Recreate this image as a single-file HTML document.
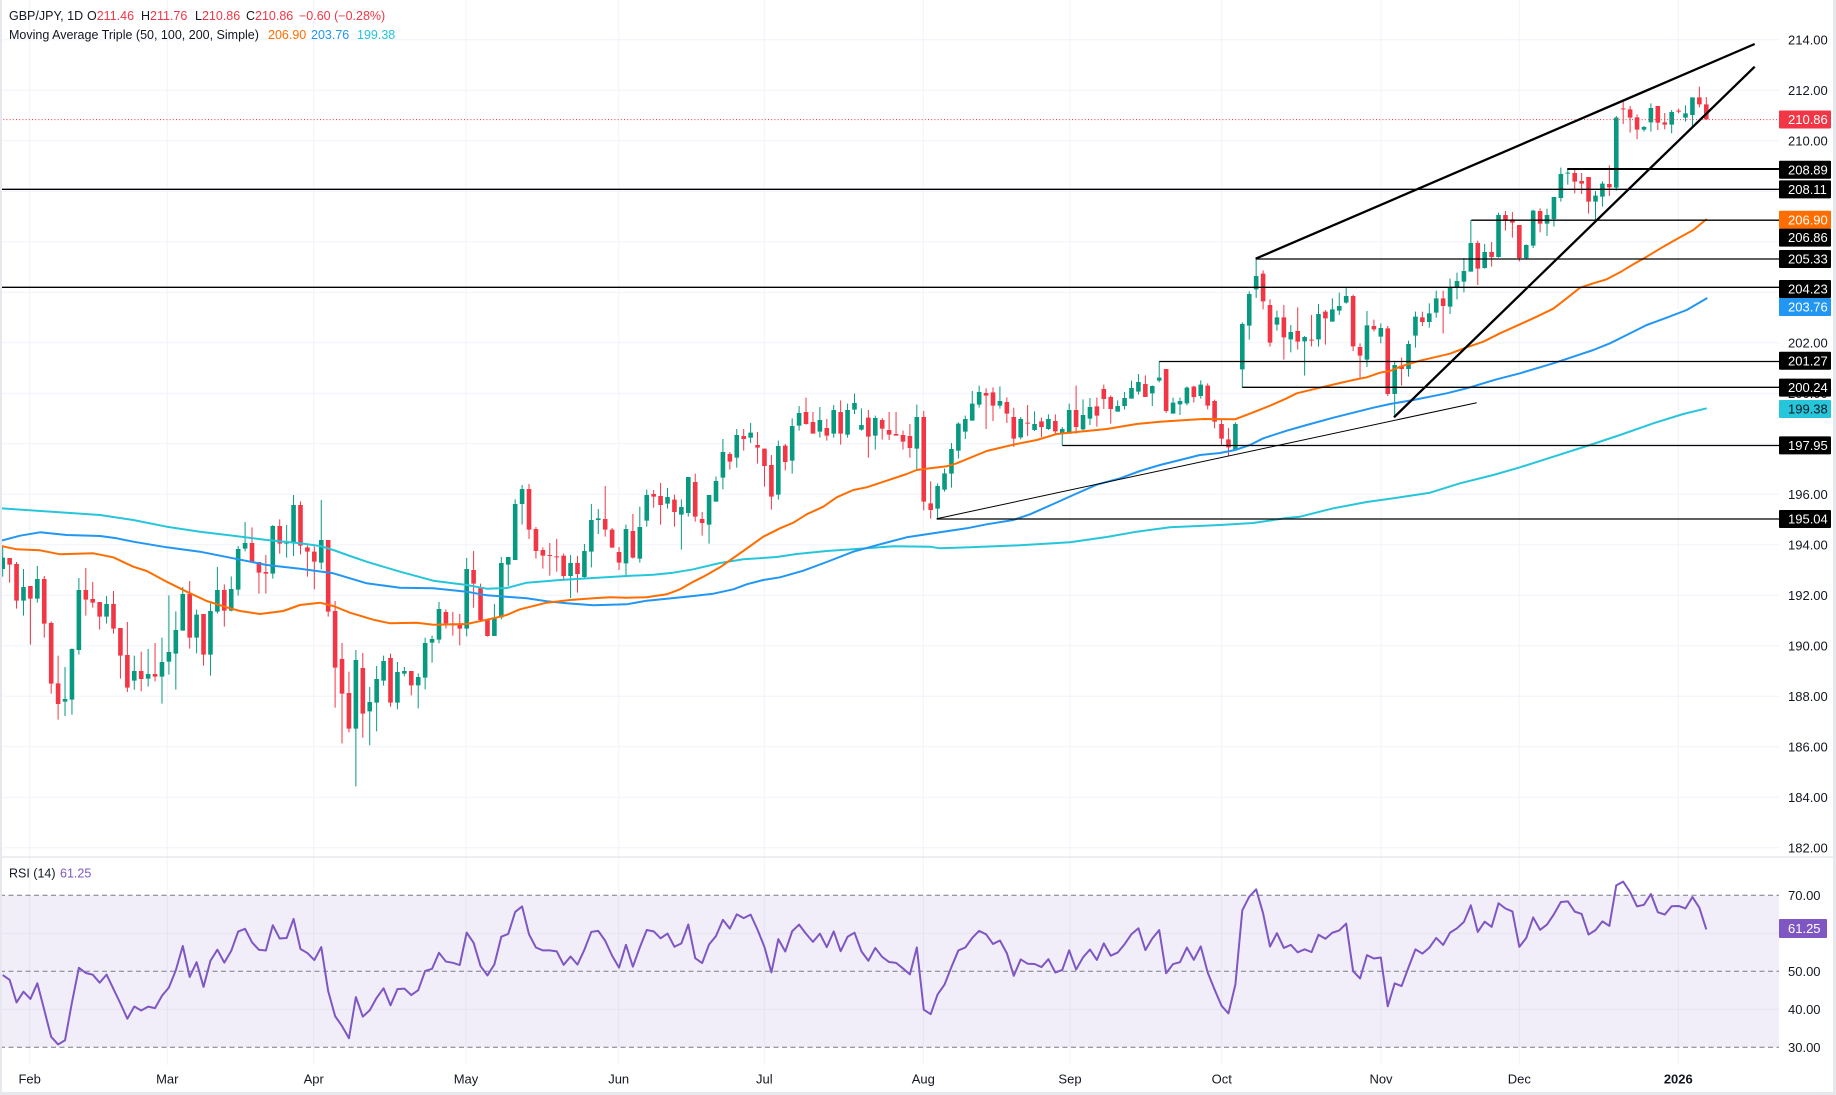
<!DOCTYPE html>
<html><head><meta charset="utf-8">
<style>
html,body{margin:0;padding:0;background:#fff;}
svg{display:block;font-family:"Liberation Sans",Arial,sans-serif;}
</style></head><body>
<svg id="c" width="1836" height="1095" viewBox="0 0 1836 1095" xmlns="http://www.w3.org/2000/svg">
<rect width="1836" height="1095" fill="#fff"/>
<g stroke="#f0f3fa" stroke-width="1">
<line x1="0" x2="1779" y1="39.8" y2="39.8"/><line x1="0" x2="1779" y1="90.3" y2="90.3"/><line x1="0" x2="1779" y1="140.8" y2="140.8"/><line x1="0" x2="1779" y1="191.3" y2="191.3"/><line x1="0" x2="1779" y1="241.8" y2="241.8"/><line x1="0" x2="1779" y1="292.3" y2="292.3"/><line x1="0" x2="1779" y1="342.8" y2="342.8"/><line x1="0" x2="1779" y1="393.3" y2="393.3"/><line x1="0" x2="1779" y1="443.8" y2="443.8"/><line x1="0" x2="1779" y1="494.3" y2="494.3"/><line x1="0" x2="1779" y1="544.8" y2="544.8"/><line x1="0" x2="1779" y1="595.3" y2="595.3"/><line x1="0" x2="1779" y1="645.8" y2="645.8"/><line x1="0" x2="1779" y1="696.3" y2="696.3"/><line x1="0" x2="1779" y1="746.8" y2="746.8"/><line x1="0" x2="1779" y1="797.3" y2="797.3"/><line x1="0" x2="1779" y1="847.8" y2="847.8"/>
<line y1="0" y2="1065" x1="29.7" x2="29.7"/><line y1="0" y2="1065" x1="167.3" x2="167.3"/><line y1="0" y2="1065" x1="313.7" x2="313.7"/><line y1="0" y2="1065" x1="466" x2="466"/><line y1="0" y2="1065" x1="618.7" x2="618.7"/><line y1="0" y2="1065" x1="764.3" x2="764.3"/><line y1="0" y2="1065" x1="923.3" x2="923.3"/><line y1="0" y2="1065" x1="1070" x2="1070"/><line y1="0" y2="1065" x1="1221.7" x2="1221.7"/><line y1="0" y2="1065" x1="1381" x2="1381"/><line y1="0" y2="1065" x1="1519.3" x2="1519.3"/><line y1="0" y2="1065" x1="1678.3" x2="1678.3"/>
</g>
<line x1="0" x2="1836" y1="857" y2="857" stroke="#e0e3eb" stroke-width="1.2"/>
<!-- RSI pane -->
<rect x="0" y="895.3" width="1779" height="152" fill="#7e57c2" fill-opacity="0.1"/>
<line x1="0" x2="1779" y1="933.3" y2="933.3" stroke="#e6e1f1" stroke-width="1"/>
<line x1="0" x2="1779" y1="1009.3" y2="1009.3" stroke="#e6e1f1" stroke-width="1"/>
<g stroke="#787b86" stroke-width="1" stroke-dasharray="5,3.5">
<line x1="0" x2="1779" y1="895.3" y2="895.3"/><line x1="0" x2="1779" y1="971.3" y2="971.3"/><line x1="0" x2="1779" y1="1047.3" y2="1047.3"/>
</g>
<g id="cand"></g>
<g id="ma" fill="none" stroke-width="2" stroke-linejoin="round"></g>
<g id="rsi" fill="none"></g>
<!-- last price dotted line -->
<line x1="0" x2="1779" y1="119.6" y2="119.6" stroke="#f23645" stroke-width="1" stroke-dasharray="1,2.2"/>
<!-- drawings -->
<g stroke="#000" fill="none">
<line x1="1567.3" x2="1779" y1="169" y2="169" stroke-width="2"/>
<line x1="0" x2="1779" y1="189.3" y2="189.3" stroke-width="1.3"/>
<line x1="1471.3" x2="1779" y1="220.2" y2="220.2" stroke-width="1.3"/>
<line x1="1255.7" x2="1779" y1="259" y2="259" stroke-width="1.3"/>
<line x1="0" x2="1779" y1="287.3" y2="287.3" stroke-width="1.3"/>
<line x1="1159.3" x2="1779" y1="361.5" y2="361.5" stroke-width="1.3"/>
<line x1="1242.3" x2="1779" y1="387.3" y2="387.3" stroke-width="1.3"/>
<line x1="1062.3" x2="1779" y1="445.5" y2="445.5" stroke-width="1.3"/>
<line x1="936.7" x2="1779" y1="519" y2="519" stroke-width="1.3"/>
<line x1="1255.7" y1="258.7" x2="1754.7" y2="44" stroke-width="2.3"/>
<line x1="1394" y1="417.3" x2="1754.7" y2="66.7" stroke-width="2.3"/>
<line x1="936.7" y1="518.7" x2="1476.7" y2="402.7" stroke-width="1"/>
</g>
<!-- header -->
<g font-size="12.5" fill="#131722">
<text x="9" y="20">GBP/JPY, 1D</text>
<text x="87" y="20">O<tspan fill="#f23645">211.46</tspan></text>
<text x="141" y="20">H<tspan fill="#f23645">211.76</tspan></text>
<text x="195" y="20">L<tspan fill="#f23645">210.86</tspan></text>
<text x="246" y="20">C<tspan fill="#f23645">210.86</tspan></text>
<text x="299" y="20" fill="#f23645">−0.60 (−0.28%)</text>
<text x="9" y="39">Moving Average Triple (50, 100, 200, Simple)</text>
<text x="268" y="39" fill="#ff6d00">206.90</text>
<text x="311" y="39" fill="#2196f3">203.76</text>
<text x="357" y="39" fill="#22c3d9">199.38</text>
<text x="9" y="877.7">RSI (14)</text>
<text x="60" y="877.7" fill="#7e57c2">61.25</text>
</g>
<!-- price axis labels -->
<g font-size="13" fill="#131722">
<text x="1788" y="44.4">214.00</text>
<text x="1788" y="94.9">212.00</text>
<text x="1788" y="145.4">210.00</text>
<text x="1788" y="347.4">202.00</text>
<text x="1788" y="397.9">200.00</text>
<text x="1788" y="498.9">196.00</text>
<text x="1788" y="549.4">194.00</text>
<text x="1788" y="599.9">192.00</text>
<text x="1788" y="650.4">190.00</text>
<text x="1788" y="700.9">188.00</text>
<text x="1788" y="751.4">186.00</text>
<text x="1788" y="801.9">184.00</text>
<text x="1788" y="852.4">182.00</text>
<text x="1788" y="899.9">70.00</text>
<text x="1788" y="975.9">50.00</text>
<text x="1788" y="1013.9">40.00</text>
<text x="1788" y="1051.9">30.00</text>
</g>
<!-- label boxes -->
<g>
<rect x="1779" y="110.5" width="52" height="18" fill="#f23645" rx="1"/>
<rect x="1779" y="160.7" width="52" height="18" fill="#000" rx="1"/>
<rect x="1779" y="180.4" width="52" height="18" fill="#000" rx="1"/>
<rect x="1779" y="210.7" width="52" height="18" fill="#ff6d00" rx="1"/>
<rect x="1779" y="228.6" width="52" height="18" fill="#000" rx="1"/>
<rect x="1779" y="250" width="52" height="18" fill="#000" rx="1"/>
<rect x="1779" y="280" width="52" height="18" fill="#000" rx="1"/>
<rect x="1779" y="298" width="52" height="18" fill="#2196f3" rx="1"/>
<rect x="1779" y="351.8" width="52" height="18" fill="#000" rx="1"/>
<rect x="1779" y="378.6" width="52" height="18" fill="#000" rx="1"/>
<rect x="1779" y="400" width="52" height="18" fill="#26c6da" rx="1"/>
<rect x="1779" y="436.4" width="52" height="18" fill="#000" rx="1"/>
<rect x="1779" y="510" width="52" height="18" fill="#000" rx="1"/>
<rect x="1779" y="919" width="48" height="19" fill="#7e57c2" rx="1"/>
</g>
<g font-size="13" fill="#fff">
<text x="1788" y="124.2">210.86</text>
<text x="1788" y="174.3">208.89</text>
<text x="1788" y="194">208.11</text>
<text x="1788" y="224.3">206.90</text>
<text x="1788" y="242.2">206.86</text>
<text x="1788" y="263.6">205.33</text>
<text x="1788" y="293.6">204.23</text>
<text x="1788" y="311.6">203.76</text>
<text x="1788" y="365.4">201.27</text>
<text x="1788" y="392.2">200.24</text>
<text x="1788" y="413.6" fill="#131722">199.38</text>
<text x="1788" y="450">197.95</text>
<text x="1788" y="523.6">195.04</text>
<text x="1788" y="933.2">61.25</text>
</g>
<!-- time axis -->
<g font-size="13" fill="#131722" text-anchor="middle">
<text x="29.7" y="1083.5">Feb</text>
<text x="167.3" y="1083.5">Mar</text>
<text x="313.7" y="1083.5">Apr</text>
<text x="466" y="1083.5">May</text>
<text x="618.7" y="1083.5">Jun</text>
<text x="764.3" y="1083.5">Jul</text>
<text x="923.3" y="1083.5">Aug</text>
<text x="1070" y="1083.5">Sep</text>
<text x="1221.7" y="1083.5">Oct</text>
<text x="1381" y="1083.5">Nov</text>
<text x="1519.3" y="1083.5">Dec</text>
<text x="1678.3" y="1083.5" font-weight="bold">2026</text>
</g>
<rect x="0" y="0" width="2" height="1095" fill="#e6e8ee"/>
<rect x="1833" y="0" width="3" height="1095" fill="#e6e8ee"/>
<rect x="0" y="1092" width="1836" height="3" fill="#e6e8ee"/>
</svg>
<script>
(function(){
const NS="http://www.w3.org/2000/svg";
function el(tag,attrs,parent){const e=document.createElementNS(NS,tag);for(const k in attrs)e.setAttribute(k,attrs[k]);parent.appendChild(e);return e;}
const Z5=[[1,263,297,230,320],[0,264,284,264,338],[0,282,392,276,416],[1,351,392,297,437],[0,348,386,348,524],[1,327,386,288,398],[0,327,461,318,503],[0,459,641,454,671],[0,640,702,557,749],[1,687,695,591,738],[1,537,689,535,734],[1,360,540,324,554],[0,360,389,294,437],[0,387,398,336,413],[0,396,440,396,479],[1,402,440,378,461],[0,402,476,363,491],[0,474,557,474,626],[0,555,653,456,666],[1,603,632,557,659],[0,603,627,545,664],[1,612,626,537,650],[0,612,620,519,634],[1,576,620,503,701],[1,546,575,376,614],[1,480,551,424,659],[1,372,482,351,482],[0,372,503,333,536],[1,434,503,419,550],[0,432,554,432,587],[1,423,554,400,617],[1,360,425,291,431],[0,360,422,343,470],[1,357,422,319,424],[1,237,359,228,377],[1,219,236,156,244],[0,219,276,172,276],[0,276,308,276,371],[0,306,311,255,371],[1,168,311,165,326],[0,168,221,148,251],[1,218,220,165,263],[1,105,220,75,258],[0,105,227,94,253],[0,232,245,226,320],[0,245,275,229,358],[1,210,278,90,298],[0,210,425,210,440],[0,423,593,393,713],[0,567,671,519,820],[0,669,776,605,787],[1,570,776,540,949],[0,594,731,549,803],[1,696,724,651,826],[1,627,698,588,784],[1,573,632,557,647],[0,564,698,551,710],[1,606,698,576,718],[1,603,611,591,619],[0,603,646,603,676],[1,621,646,610,715],[1,519,623,503,658],[1,507,518,497,578],[1,417,509,396,520],[0,426,460,418,475],[0,460,466,426,497],[0,462,476,432,526],[1,297,476,264,499]];
const Z6=[[0,630,671,573,743],[0,682,780,671,782],[0,778,828,778,830],[1,772,828,732,828],[1,609,772,591,778],[1,591,614,591,678],[1,432,600,418,600],[1,387,432,375,494],[0,387,509,372,537],[0,507,573,501,596],[0,570,587,562,626],[0,585,587,549,647],[0,589,591,537,635],[0,587,648,581,662],[1,609,648,585,714],[0,609,642,588,698],[1,573,651,552,654],[1,480,575,432,622],[1,475,480,447,522],[0,477,509,378,530],[0,509,563,504,563],[0,576,608,561,630],[1,507,610,494,648],[0,513,593,462,596],[1,501,596,440,608],[1,405,482,389,500],[0,402,410,390,443],[0,408,435,369,494],[1,411,431,384,446],[0,419,456,404,500],[1,441,464,418,569],[1,351,459,351,470],[0,366,470,341,485],[0,477,489,456,527],[1,405,494,405,551],[1,363,425,349,425],[1,276,353,237,388],[0,282,305,276,329],[1,225,293,207,323],[0,228,237,207,272],[1,218,233,189,249],[0,255,263,216,311],[0,266,318,266,380],[0,315,410,285,449],[1,258,404,242,419],[0,257,306,252,331],[1,198,302,175,341],[1,159,197,138,212],[0,156,192,113,194],[0,186,221,156,221],[1,180,215,141,233],[0,204,227,177,242],[1,150,221,135,233],[0,156,221,121,254],[1,150,224,131,233],[1,129,149,101,162],[1,195,209,145,212],[0,173,230,150,293],[1,174,227,167,269],[0,180,206,174,239],[0,210,224,156,240],[0,222,227,156,227],[0,225,245,212,269],[0,228,264,192,293],[1,171,266,134,329],[0,171,425,153,451]];
const Z7=[[0,820,840,754,866],[1,768,836,760,866],[1,730,779,716,785],[1,657,731,639,773],[1,581,662,577,686],[1,567,605,557,627],[1,521,572,483,572],[1,486,524,467,533],[0,489,497,475,597],[0,487,527,472,573],[1,513,527,469,536],[0,516,551,502,579],[0,561,626,533,651],[1,567,622,561,628],[0,578,581,525,618],[1,582,600,544,603],[0,574,591,563,621],[1,567,597,553,600],[0,573,604,553,613],[1,597,611,591,646],[1,540,611,521,611],[0,540,591,467,611],[1,555,598,508,601],[1,531,566,504,585],[0,529,557,503,590],[0,477,507,464,537],[0,501,537,496,581],[1,528,545,511,545],[1,504,528,486,539],[1,474,506,452,506],[1,456,485,432,494],[0,462,501,436,501],[1,468,490,466,528],[1,443,452,394,457],[0,417,543,417,549],[1,518,551,503,551],[1,513,523,503,555],[1,473,520,469,526],[0,470,501,467,518],[1,464,498,451,506],[0,467,527,460,538],[0,513,575,509,595],[0,582,626,566,645],[0,628,652,594,678],[1,582,658,577,660],[1,282,418,277,472],[1,192,287,184,329],[1,138,178,86,204],[0,131,214,121,238],[0,225,338,208,350],[1,262,284,242,302],[0,262,322,225,389],[1,306,328,285,367],[0,303,335,232,359],[1,321,334,318,437],[0,329,331,255,349],[1,252,328,222,350],[0,245,265,240,344],[1,238,275,205,275],[1,228,242,188,255],[1,198,218,170,221],[0,198,349,194,363],[0,351,377,340,445],[1,286,389,243,411],[0,288,298,269,304],[1,294,320,280,340]];
const Z8=[[0,925,1122,918,1128],[1,1035,1122,1025,1192],[0,1037,1047,1013,1097],[1,972,1047,962,1070],[1,890,947,875,983],[0,892,906,875,918],[1,880,906,850,923],[1,835,878,812,893],[0,835,858,812,940],[1,803,860,776,882],[1,783,803,758,838],[1,753,785,714,817],[1,669,755,600,755],[0,669,746,662,795],[1,696,744,672,746],[0,696,711,666,740],[1,585,711,578,713],[0,585,600,573,632],[0,598,608,576,653],[0,615,714,615,724],[1,675,714,673,716],[1,572,677,569,684],[0,573,611,565,637],[1,585,611,566,648],[1,531,597,531,620],[1,462,534,443,545],[1,458,460,444,494],[0,459,485,449,520],[0,483,491,459,522],[0,471,545,471,581],[1,527,545,513,600],[1,491,530,484,560],[0,492,502,436,528],[1,293,503,288,512],[0,265,267,245,312],[0,268,293,258,338],[0,292,329,283,358],[1,321,329,318,335],[1,264,307,250,335],[0,258,308,258,330],[0,307,314,279,328],[1,276,314,270,340],[0,272,275,266,280],[1,280,293,256,305],[1,232,285,232,318],[0,232,253,200,262],[0,253,298,231,300]];
const segs=[[470,Z5],[360,Z6],[230,Z7],[20,Z8]];
const bars=[];
segs.forEach(function(s){const off=s[0];s[1].forEach(function(c){bars.push({g:c[0],t:off+c[1]/3,b:off+c[2]/3,wt:off+c[3]/3,wb:off+c[4]/3});});});
const N=bars.length;
const step=(1706.3-2.7)/(N-1);
let wG='',wR='',bG='',bR='';
const bw=4.6;
bars.forEach(function(b,i){
  const x=2.7+i*step;
  const w='M'+x.toFixed(2)+','+b.wt.toFixed(2)+'V'+b.wb.toFixed(2);
  let h=b.b-b.t; if(h<1)h=1;
  const r='M'+(x-bw/2).toFixed(2)+','+b.t.toFixed(2)+'h'+bw+'v'+h.toFixed(2)+'h'+(-bw)+'z';
  if(b.g){wG+=w;bG+=r;}else{wR+=w;bR+=r;}
});
const gc=document.getElementById('cand');
el('path',{d:wG,stroke:'#089981','stroke-width':1,fill:'none'},gc);
el('path',{d:wR,stroke:'#f23645','stroke-width':1,fill:'none'},gc);
el('path',{d:bG,fill:'#089981'},gc);
el('path',{d:bR,fill:'#f23645'},gc);
const cyan=[[0,508.3],[66.7,512.7],[100,515],[133.3,520],[166.7,526.7],[200,531.7],[233.3,535.7],[266.7,540],[300,543.3],[320,546],[333.3,550],[350,556],[366.7,561.7],[400,571.7],[433.3,580.7],[466.7,585],[486.7,588.7],[506.7,588],[526.7,582.7],[560,580],[593.3,578],[626.7,576],[653.3,574.7],[673.3,572.7],[693.3,569.3],[720,563],[743.3,559.3],[776.7,557],[796.7,554],[826.7,551],[860,548.7],[893.3,546.3],[930,546.7],[940,548.3],[970,547.3],[1020,545.3],[1070,542.3],[1106.7,537],[1136.7,531.7],[1170,527.3],[1220,525],[1253.3,523],[1286.7,518],[1300,516.7],[1333.3,508.3],[1366.7,502],[1400,497.3],[1430,492.7],[1460,483.3],[1493.3,475],[1520,467.3],[1553.3,456.7],[1590,445],[1620,435],[1653.3,423.3],[1683.3,414],[1706.7,408.3]];
const blue=[[0,541],[20,535.7],[40,532.3],[66.7,535],[100,536],[116.7,538.3],[133.3,541.7],[166.7,547.3],[200,551.7],[233.3,558.3],[266.7,565],[300,568.7],[333.3,573.3],[350,578.3],[366.7,583.3],[400,587.7],[433.3,588.3],[466.7,591.7],[486.7,595.3],[526.7,598.3],[546.7,601.3],[566.7,603.3],[593.3,605.3],[626.7,604.3],[646.7,600.7],[666.7,598.7],[693.3,596],[713.3,593.7],[733.3,589.3],[746.7,584.3],[763.3,580],[780,577.3],[803.3,570.7],[826.7,562],[853.3,551.7],[880,544.3],[906.7,537.3],[930,533.7],[966.7,528.3],[986.7,524.3],[1013.3,520],[1030,514.3],[1053.3,504],[1073.3,495],[1096.7,484.7],[1120,478.3],[1140,471],[1160,465],[1180,460],[1200,455],[1220,453],[1235,450],[1250,445],[1263.3,438.3],[1286.7,430.7],[1306.7,425],[1333.3,417.7],[1353.3,412.7],[1373.3,407.7],[1390,404],[1413.3,400],[1446.7,393.3],[1466.7,388.3],[1496.7,379.3],[1520,373.3],[1553.3,363.3],[1573.3,356.7],[1593.3,350],[1610,343.3],[1626.7,335],[1646.7,325],[1666.7,317.7],[1686.7,310],[1707.3,298]];
const orange=[[0,545.7],[16.7,549.3],[40,550.3],[60,554.3],[93.3,553.3],[113.3,557.3],[133.3,566.7],[146.7,571],[166.7,581.7],[186.7,591.7],[206.7,601],[226.7,607.3],[240,611],[260,614],[283.3,611],[300,605],[320,602.7],[333.3,606],[350,612.7],[373.3,619.7],[390,623.3],[416.7,622.7],[433.3,624.7],[466.7,624],[493.3,618.3],[506.7,615],[520,609.3],[546.7,602.7],[570,600],[593.3,598.3],[610,597.3],[626.7,597.7],[646.7,597.3],[666.7,594.3],[680,589.3],[693.3,581.7],[703.3,576.7],[720,567.3],[733.3,558],[743.3,551],[763.3,536.7],[780,528.3],[793.3,522.7],[806.7,514.3],[823.3,506.7],[836.7,497.3],[853.3,490],[866.7,487.3],[886.7,480.7],[906.7,474],[916.7,470],[930,468.3],[946.7,466.3],[956.7,463.3],[986.7,451],[1013.3,444.7],[1036.7,440],[1056.7,434],[1086.7,431],[1106.7,429],[1136.7,424],[1160,421.7],[1186.7,420],[1203.3,419],[1235,419.3],[1253.3,412.3],[1270,405.7],[1286.7,398.3],[1296.7,393.3],[1320,387.7],[1340,383],[1353.3,380],[1366.7,377.3],[1380,372.7],[1390,371],[1400,366.7],[1420,360.7],[1450,353.7],[1466.7,347.3],[1483.3,341.7],[1500,333.3],[1520,324.3],[1536.7,316.7],[1553.3,308.7],[1566.7,298.3],[1580,287.7],[1593.3,283.3],[1606.7,279.3],[1620,272.3],[1633.3,264.3],[1646.7,256.7],[1663.3,246.7],[1680,237.3],[1693.3,230],[1706.7,219]];
const gm=document.getElementById('ma');
function pts(a){return a.map(function(p){return p[0]+','+p[1];}).join(' ');}
el('polyline',{points:pts(cyan),stroke:'#26c6da'},gm);
el('polyline',{points:pts(blue),stroke:'#2196f3'},gm);
el('polyline',{points:pts(orange),stroke:'#ff6d00'},gm);
// RSI
let ag=10,al=10.4;
const rs=[];
let prev=null;
bars.forEach(function(b,i){
  const c=-(b.g?b.t:b.b);
  if(prev!==null){const d=c-prev;const g=d>0?d:0,l=d<0?-d:0;ag=(ag*13+g)/14;al=(al*13+l)/14;}
  prev=c;
  const r=al===0?100:100-100/(1+ag/al);
  rs.push([2.7+i*step,895.3+(70-r)*3.8]);
});
el('polyline',{points:rs.map(function(p){return p[0].toFixed(2)+','+p[1].toFixed(2);}).join(' '),stroke:'#7e57c2','stroke-width':2,'stroke-linejoin':'round'},document.getElementById('rsi'));
})();
</script>
</body></html>
